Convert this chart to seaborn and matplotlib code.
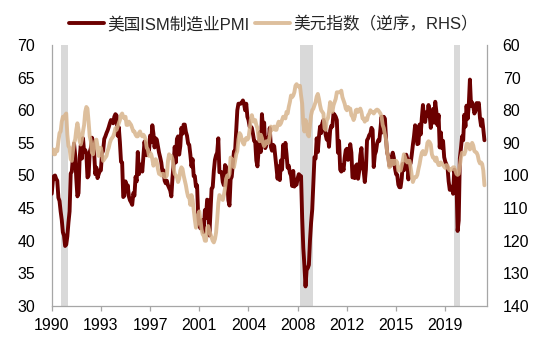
import numpy as np
import pandas as pd
import matplotlib
matplotlib.use("Agg")
import matplotlib.pyplot as plt
import seaborn as sns

# ---------------- data (monthly, Jan 1990 - Apr 2022) ----------------
pmi_by_year = {
    1990: [47.2, 49.1, 49.9, 50.0, 49.5, 49.2, 46.6, 46.1, 44.5, 43.2, 41.3, 40.8],
    1991: [39.2, 39.4, 40.7, 42.8, 44.5, 50.3, 50.6, 52.9, 54.9, 53.1, 49.5, 46.8],
    1992: [47.3, 52.7, 54.6, 52.6, 55.7, 53.6, 53.9, 53.3, 49.7, 50.0, 53.6, 54.2],
    1993: [55.8, 55.2, 53.4, 50.2, 51.2, 49.6, 50.2, 50.7, 50.8, 53.4, 53.8, 55.6],
    1994: [56.0, 56.5, 56.9, 57.4, 58.0, 58.5, 58.4, 58.0, 59.0, 59.4, 59.2, 56.1],
    1995: [57.4, 55.1, 52.1, 52.0, 46.7, 46.9, 49.1, 47.8, 48.5, 46.8, 46.2, 45.9],
    1996: [45.5, 47.3, 46.9, 49.8, 49.1, 53.6, 50.2, 51.6, 51.7, 50.6, 53.0, 55.2],
    1997: [53.8, 53.1, 53.8, 53.7, 56.1, 55.1, 57.7, 56.4, 54.3, 55.7, 55.5, 54.5],
    1998: [53.5, 52.8, 52.0, 50.6, 50.8, 49.2, 48.8, 49.2, 48.5, 48.1, 47.7, 46.8],
    1999: [49.6, 51.7, 54.4, 52.0, 55.6, 56.0, 53.2, 54.5, 57.3, 56.4, 57.8, 57.8],
    2000: [56.7, 56.1, 54.9, 54.7, 53.2, 51.4, 52.5, 49.9, 49.9, 48.3, 48.5, 43.9],
    2001: [42.3, 41.9, 43.1, 43.2, 41.3, 44.7, 43.5, 46.3, 46.2, 40.8, 44.5, 48.0],
    2002: [48.2, 50.7, 52.4, 53.1, 53.5, 55.7, 50.5, 50.5, 50.5, 49.0, 48.5, 51.6],
    2003: [51.3, 49.5, 46.2, 45.4, 49.4, 49.8, 51.8, 53.7, 53.7, 57.0, 60.0, 61.0],
    2004: [61.0, 61.0, 61.2, 61.5, 61.0, 60.0, 61.0, 59.0, 58.5, 57.5, 57.5, 57.3],
    2005: [56.4, 55.3, 55.2, 52.3, 51.4, 53.8, 56.6, 53.6, 59.4, 57.2, 58.1, 54.2],
    2006: [54.8, 55.8, 55.2, 57.3, 54.4, 53.8, 54.7, 54.5, 52.9, 51.2, 49.5, 51.4],
    2007: [49.3, 52.3, 50.9, 54.7, 52.9, 55.0, 53.3, 51.2, 51.5, 50.4, 50.0, 48.4],
    2008: [50.7, 48.3, 48.6, 48.6, 49.6, 50.2, 50.0, 49.9, 43.5, 38.9, 36.2, 33.0],
    2009: [35.6, 35.8, 36.3, 40.1, 42.8, 44.8, 48.9, 52.8, 52.6, 55.7, 53.6, 55.9],
    2010: [57.5, 56.5, 58.0, 58.5, 58.0, 56.2, 55.5, 56.3, 54.4, 56.9, 57.6, 57.5],
    2011: [59.5, 59.3, 59.0, 58.5, 53.5, 55.3, 50.9, 50.6, 51.6, 50.8, 52.7, 53.9],
    2012: [54.1, 52.4, 53.4, 54.8, 53.5, 49.7, 49.8, 49.6, 51.5, 51.7, 49.5, 50.7],
    2013: [53.1, 54.2, 51.3, 50.7, 49.0, 50.9, 55.4, 55.7, 56.2, 56.4, 57.3, 57.0],
    2014: [51.3, 53.2, 53.7, 54.9, 55.4, 55.3, 57.1, 59.0, 56.6, 59.0, 58.7, 55.5],
    2015: [53.5, 52.9, 51.5, 51.5, 52.8, 53.5, 52.7, 51.1, 50.2, 50.1, 48.6, 48.2],
    2016: [48.2, 49.5, 51.8, 50.8, 51.3, 53.2, 52.6, 49.4, 51.5, 51.9, 53.2, 54.7],
    2017: [56.0, 57.7, 57.2, 54.8, 54.9, 57.8, 56.3, 58.8, 60.8, 58.7, 58.2, 59.7],
    2018: [59.1, 60.8, 59.3, 57.3, 58.7, 60.2, 58.1, 61.3, 59.8, 57.7, 59.3, 54.3],
    2019: [56.6, 54.2, 55.3, 52.8, 52.1, 51.7, 51.2, 49.1, 47.8, 48.3, 48.1, 47.2],
    2020: [50.9, 50.1, 49.1, 41.5, 43.1, 52.6, 54.2, 56.0, 55.4, 59.3, 57.5, 60.7],
    2021: [58.7, 60.8, 64.7, 60.7, 61.2, 60.6, 59.5, 59.9, 61.1, 60.8, 61.1, 58.8],
    2022: [57.6, 58.6, 57.1, 55.4],
}

dxy_by_year = {
    1990: [92.5, 92.0, 93.5, 93.5, 92.0, 92.5, 89.5, 87.0, 86.5, 83.5, 82.0, 82.5],
    1991: [81.5, 81.0, 87.5, 91.0, 91.5, 95.0, 95.5, 92.5, 90.0, 89.0, 86.0, 84.0],
    1992: [86.0, 89.5, 90.5, 89.0, 86.5, 84.5, 80.5, 79.0, 79.5, 83.5, 88.0, 89.5],
    1993: [93.0, 93.5, 91.5, 89.5, 89.0, 91.0, 94.0, 92.5, 91.5, 93.5, 95.5, 95.0],
    1994: [94.5, 94.0, 92.5, 91.5, 90.0, 89.0, 88.5, 88.0, 87.0, 85.5, 86.0, 85.0],
    1995: [84.0, 83.0, 81.5, 81.0, 82.0, 82.5, 82.0, 84.5, 84.5, 83.5, 84.0, 84.5],
    1996: [85.5, 86.5, 86.5, 87.5, 88.0, 88.0, 87.0, 86.5, 87.5, 88.0, 87.5, 88.0],
    1997: [89.0, 91.5, 92.0, 94.0, 93.0, 93.5, 95.0, 97.0, 96.0, 95.0, 96.0, 98.0],
    1998: [99.5, 99.5, 100.0, 99.5, 99.5, 100.5, 100.5, 100.0, 95.5, 93.5, 94.5, 94.0],
    1999: [95.0, 97.5, 99.5, 100.0, 100.5, 102.0, 101.0, 98.5, 97.5, 98.0, 100.0, 101.5],
    2000: [103.0, 105.0, 106.5, 106.5, 109.0, 106.0, 107.5, 110.5, 113.5, 116.0, 115.0, 112.0],
    2001: [111.0, 113.5, 116.5, 118.0, 118.5, 120.0, 120.0, 116.0, 115.5, 117.0, 118.0, 119.0],
    2002: [120.0, 120.5, 119.5, 117.5, 113.5, 108.5, 106.0, 106.5, 107.0, 107.5, 106.0, 104.0],
    2003: [101.0, 100.0, 100.5, 99.5, 94.5, 95.0, 96.5, 97.5, 95.5, 93.5, 92.5, 89.0],
    2004: [87.0, 87.5, 89.0, 90.0, 90.5, 89.0, 88.5, 89.0, 88.5, 86.0, 83.0, 81.5],
    2005: [83.0, 83.5, 83.0, 84.5, 85.5, 88.5, 89.5, 87.5, 88.5, 90.0, 91.0, 90.5],
    2006: [89.5, 90.0, 90.0, 88.0, 85.0, 86.0, 85.5, 85.0, 86.0, 86.0, 84.5, 83.5],
    2007: [84.5, 84.0, 83.0, 82.0, 82.0, 82.5, 80.5, 81.0, 79.0, 77.5, 75.5, 76.0],
    2008: [75.5, 74.5, 72.5, 72.0, 72.5, 72.8, 72.5, 75.5, 78.0, 84.0, 86.5, 83.0],
    2009: [84.5, 87.5, 88.0, 84.5, 81.5, 80.0, 79.5, 78.5, 77.5, 75.8, 75.0, 76.5],
    2010: [78.5, 80.0, 80.5, 81.0, 85.5, 86.0, 83.0, 82.5, 80.5, 77.5, 78.5, 80.5],
    2011: [78.5, 77.5, 76.5, 74.5, 74.5, 74.5, 74.5, 74.0, 76.0, 77.0, 78.0, 79.5],
    2012: [80.0, 79.0, 79.5, 79.5, 81.5, 82.0, 83.0, 82.0, 80.0, 79.8, 80.5, 80.0],
    2013: [79.5, 80.5, 82.5, 82.5, 83.5, 82.5, 83.0, 81.5, 81.0, 80.0, 80.5, 80.5],
    2014: [81.0, 80.5, 80.0, 79.8, 80.0, 80.5, 81.0, 82.0, 84.5, 85.5, 87.5, 89.0],
    2015: [93.0, 94.5, 97.5, 97.0, 95.5, 95.5, 96.5, 95.5, 95.5, 96.0, 98.5, 98.5],
    2016: [98.5, 97.0, 95.5, 93.5, 94.5, 95.5, 96.0, 95.5, 95.5, 97.5, 100.0, 102.0],
    2017: [101.0, 100.5, 100.5, 99.8, 98.0, 96.5, 94.5, 93.0, 92.5, 93.5, 93.5, 92.5],
    2018: [90.0, 89.5, 89.8, 90.5, 93.5, 94.5, 94.5, 95.5, 94.5, 96.0, 96.8, 96.8],
    2019: [96.0, 96.5, 96.8, 97.3, 97.7, 96.8, 97.0, 98.0, 98.5, 98.0, 98.0, 97.5],
    2020: [97.5, 98.5, 99.5, 99.8, 99.5, 97.0, 94.5, 93.0, 93.5, 93.5, 92.5, 90.3],
    2021: [90.3, 90.5, 92.0, 91.5, 90.0, 90.8, 92.5, 92.8, 93.0, 93.8, 95.5, 96.3],
    2022: [96.0, 96.5, 98.5, 103.0],
}

x_tick_labels = ["1990", "1993", "1997", "2001", "2004", "2008", "2012", "2015", "2019"]
recessions = [(1990.69, 1991.22), (2008.48, 2009.48), (2020.0, 2020.45)]
label_pmi = "美国ISM制造业PMI"
label_dxy = "美元指数（逆序，RHS）"

# ---------------- build table ----------------
pmi = [v for y in sorted(pmi_by_year) for v in pmi_by_year[y]]
dxy = [v for y in sorted(dxy_by_year) for v in dxy_by_year[y]]
n = len(pmi)
t = 1990 + np.arange(n) / 12.0
df = pd.DataFrame({"t": t, "pmi": pmi, "dxy": dxy})

# ---------------- plot ----------------
sns.set_theme(style="white")
plt.rcParams["font.family"] = ["Liberation Sans", "Noto Sans CJK SC", "DejaVu Sans"]

fig = plt.figure(figsize=(5.47, 3.43), dpi=100)
ax = fig.add_axes([0.0945, 0.1079, 0.7953, 0.7609])
ax2 = ax.twinx()

c_pmi = "#6B0000"
c_dxy = "#D8B48C"

for a, b in recessions:
    ax.axvspan(a, b, color="#D9D9D9", lw=0, zorder=0)

sns.lineplot(data=df, x="t", y="pmi", ax=ax, color=c_pmi, lw=2.8, label=label_pmi, legend=False, zorder=3)
sns.lineplot(data=df, x="t", y="dxy", ax=ax2, color=c_dxy, lw=2.8, alpha=0.85, label=label_dxy, legend=False, zorder=3)

ax.set_xlim(1990, 2022.42)
ax.set_ylim(30, 70)
ax.set_yticks(np.arange(30, 71, 5))
ax2.set_ylim(140, 60)
ax2.set_yticks(np.arange(60, 141, 10))

xt = [1990 + k * 44 / 12 for k in range(len(x_tick_labels))]
ax.set_xticks(xt)
ax.set_xticklabels(x_tick_labels)

for a in (ax, ax2):
    a.set_xlabel("")
    a.set_ylabel("")
    a.grid(False)
    for s in a.spines.values():
        s.set_color("#A6A6A6")
        s.set_linewidth(0.9)
    a.spines["top"].set_visible(False)

ax.spines["right"].set_visible(False)
ax2.spines["left"].set_visible(False)
ax2.spines["bottom"].set_visible(False)

ax.tick_params(axis="y", length=0, pad=12, labelsize=11.4, colors="#000000")
ax2.tick_params(axis="y", length=0, pad=11.5, labelsize=11.4, colors="#000000")
ax.tick_params(axis="x", length=3.5, width=0.9, color="#A6A6A6", direction="out", pad=5, labelsize=11.4, labelcolor="#000000")
ax.tick_params(axis="x", bottom=True)

h1, l1 = ax.get_legend_handles_labels()
h2, l2 = ax2.get_legend_handles_labels()
fig.legend(h1 + h2, l1 + l2, loc="center", bbox_to_anchor=(0.5, 0.93), ncol=2, frameon=False,
           fontsize=12, handlelength=2.1, handletextpad=0.2, columnspacing=0.3)

fig.savefig("out.png", dpi=100)
